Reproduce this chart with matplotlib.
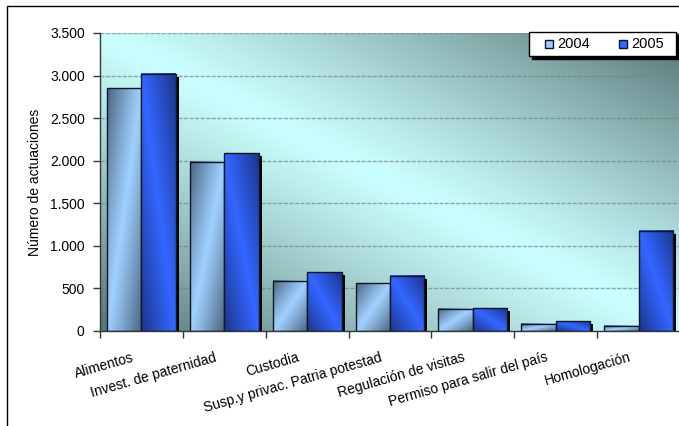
import numpy as np
import matplotlib
matplotlib.use("Agg")
import matplotlib.pyplot as plt
from matplotlib import transforms
from matplotlib.patches import Rectangle
from matplotlib.ticker import FuncFormatter

plt.rcParams['font.family'] = ['Liberation Sans', 'DejaVu Sans']

categories = ["Alimentos", "Invest. de paternidad", "Custodia",
              "Susp.y privac. Patria potestad", "Regulación de visitas",
              "Permiso para salir del país", "Homologación"]
series_names = ["2004", "2005"]
values_2004 = [2850, 1985, 590, 563, 262, 86, 62]
values_2005 = [3020, 2085, 692, 649, 266, 114, 1177]
y_ticks = [0, 500, 1000, 1500, 2000, 2500, 3000, 3500]
y_label = "Número de actuaciones"

W, H = 679, 426
fig = plt.figure(figsize=(W / 100, H / 100), dpi=100)
fig.patch.set_facecolor("white")

# plot area in pixel terms
left_px, right_px, top_px, bottom_px = 100, 680, 33, 331
ax = fig.add_axes([left_px / W, 1 - bottom_px / H,
                   (right_px - left_px) / W, (bottom_px - top_px) / H])

n = len(categories)
ax.set_xlim(-0.5, n - 0.5)
ax.set_ylim(0, 3500)

# diagonal gradient background of the plot area
res = 300
u = np.linspace(0, 1, res)[None, :]
v = np.linspace(0, 1, res)[:, None]
s = np.clip(np.abs(v - u), 0, 1) ** 1.15
light_bg = np.array(matplotlib.colors.to_rgb("#ccffff"))
dark_bg = np.array(matplotlib.colors.to_rgb("#577373"))
bg = light_bg * (1 - s[..., None]) + dark_bg * s[..., None]
ax.imshow(bg, extent=(0, 1, 0, 1), transform=ax.transAxes, origin="upper",
          aspect="auto", zorder=0, interpolation="bilinear")

# gridlines
for yv in y_ticks[1:]:
    ax.axhline(yv, color="#758585", lw=1.0, alpha=0.7, zorder=1,
               linestyle=(0, (3, 1)))

bar_w = 0.415
offsets = [-bar_w / 2, bar_w / 2]


def bar_gradient(kind, light, dark, nx=60, ny=200):
    uu = np.linspace(0, 1, nx)[None, :]
    vv = np.linspace(0, 1, ny)[:, None]
    if kind == "a":
        g = np.abs(uu + vv - 1)
    else:
        g = np.abs(vv - uu)
    g = np.clip(g, 0, 1) ** 1.1
    lc = np.array(matplotlib.colors.to_rgb(light))
    dc = np.array(matplotlib.colors.to_rgb(dark))
    return lc * (1 - g[..., None]) + dc * g[..., None]


shadow_tr = transforms.offset_copy(ax.transData, fig=fig, x=3, y=-3, units="dots")

styles = [("a", "#a0d0ff", "#4a6480"), ("b", "#3366ff", "#1c3388")]
series = [values_2004, values_2005]
x = np.arange(n)

for k, (vals, (kind, lc, dc)) in enumerate(zip(series, styles)):
    xs = x + offsets[k]
    # drop shadow
    ax.bar(xs, vals, width=bar_w, color="black", transform=shadow_tr,
           zorder=2 + 2 * k, linewidth=0)
    for xi, val in zip(xs, vals):
        img = bar_gradient(kind, lc, dc)
        ax.imshow(img, extent=(xi - bar_w / 2, xi + bar_w / 2, 0, val),
                  origin="upper", aspect="auto", zorder=2.5 + 2 * k,
                  interpolation="bilinear")
    ax.bar(xs, vals, width=bar_w, facecolor="none", edgecolor="#101828",
           linewidth=1.0, zorder=3 + 2 * k)

ax.set_xlim(-0.5, n - 0.5)
ax.set_ylim(0, 3500)

# axes styling
for side in ["top", "right"]:
    ax.spines[side].set_visible(False)
for side in ["left", "bottom"]:
    ax.spines[side].set_color("#303838")
    ax.spines[side].set_linewidth(1.0)
    ax.spines[side].set_zorder(8)

ax.set_yticks(y_ticks)
ax.yaxis.set_major_formatter(FuncFormatter(lambda val, p: f"{int(val):,}".replace(",", ".")))
ax.tick_params(axis="y", direction="out", length=5, width=1, color="#303838",
               labelsize=10, pad=6)
ax.set_xticks(np.arange(n + 1) - 0.5)
ax.set_xticklabels([])
ax.tick_params(axis="x", direction="out", length=5, width=1, color="#303838")

ax.set_ylabel(y_label, fontsize=10, labelpad=14)
ax.yaxis.set_label_coords(-58 / (right_px - left_px), 0.5)

# category labels, rotated and anchored at their right end
lab_tr = transforms.blended_transform_factory(ax.transData, ax.transAxes)
lab_tr = lab_tr + transforms.ScaledTranslation(-7 / 100, -30 / 100, fig.dpi_scale_trans)
for i, cat in enumerate(categories):
    ax.text(i, 0, cat, transform=lab_tr, rotation=16, rotation_mode="anchor",
            ha="right", va="baseline", fontsize=10)

# legend box drawn in pixel coordinates
def px(xp, yp):
    return (xp / W, 1 - yp / H)

lx0, ly0, lx1, ly1 = 529, 32, 676, 56
fig.add_artist(Rectangle(px(lx0 + 3, ly1 + 3), (lx1 - lx0) / W, (ly1 - ly0) / H,
                         transform=fig.transFigure, facecolor="black",
                         edgecolor="black", linewidth=1.0, zorder=10))
fig.add_artist(Rectangle(px(lx0, ly1), (lx1 - lx0) / W, (ly1 - ly0) / H,
                         transform=fig.transFigure, facecolor="white",
                         edgecolor="black", linewidth=1.0, zorder=11))
legend_colors = ["#99ccff", "#3366ff"]
for name, col, x0 in zip(series_names, legend_colors, [545, 619]):
    fig.add_artist(Rectangle(px(x0, 48), 8 / W, 8 / H, transform=fig.transFigure,
                             facecolor=col, edgecolor="#101828", linewidth=1.0,
                             zorder=12))
    fig.text((x0 + 12) / W, 1 - 44 / H, name, fontsize=10.5, ha="left",
             va="center", zorder=12)

# outer chart frame
fig.add_artist(Rectangle((6.5 / W, -0.1), 1.2, 1 - 5.5 / H + 0.1,
                         transform=fig.transFigure, fill=False,
                         edgecolor="black", linewidth=1.0))

fig.savefig("out.png", dpi=100)
